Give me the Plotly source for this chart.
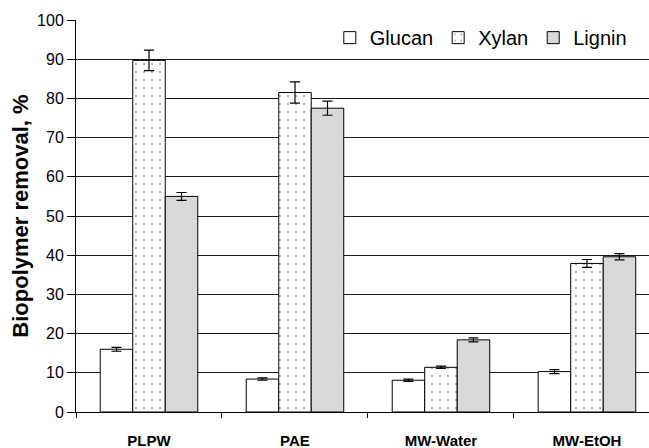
import plotly.graph_objects as go

categories = ["PLPW", "PAE", "MW-Water", "MW-EtOH"]
glucan = [16.0, 8.4, 8.1, 10.3]
glucan_err = [0.5, 0.3, 0.3, 0.5]
xylan = [89.7, 81.5, 11.4, 37.9]
xylan_err = [2.6, 2.7, 0.3, 1.0]
lignin = [55.0, 77.5, 18.4, 39.6]
lignin_err = [1.0, 1.8, 0.5, 0.8]
y_ticks = [0, 10, 20, 30, 40, 50, 60, 70, 80, 90, 100]

FONT = "Liberation Sans, Arial, sans-serif"
LINE = dict(color="#000000", width=1)
ERR = dict(type="data", visible=True, color="#000000", thickness=1.2, width=5)

fig = go.Figure()
fig.add_trace(go.Bar(
    name="Glucan", x=categories, y=glucan,
    error_y=dict(array=glucan_err, **ERR),
    marker=dict(color="#ffffff", line=LINE),
))
fig.add_trace(go.Bar(
    name="Xylan", x=categories, y=xylan,
    error_y=dict(array=xylan_err, **ERR),
    marker=dict(color="#ffffff", line=LINE,
                pattern=dict(shape=".", size=8, solidity=0.05,
                             fgcolor="#222222", bgcolor="#ffffff", fillmode="overlay")),
))
fig.add_trace(go.Bar(
    name="Lignin", x=categories, y=lignin,
    error_y=dict(array=lignin_err, **ERR),
    marker=dict(color="#d9d9d9", line=LINE),
))

fig.update_layout(
    width=649, height=448,
    margin=dict(l=76, r=0, t=20, b=36, pad=0),
    paper_bgcolor="#ffffff", plot_bgcolor="#ffffff",
    barmode="group", bargap=0.332, bargroupgap=0,
    font=dict(family=FONT, color="#000000"),
    showlegend=True,
    legend=dict(orientation="h", x=0.97, xanchor="right", y=0.955, yanchor="middle",
                bgcolor="rgba(0,0,0,0)", font=dict(size=20, family=FONT),
                itemwidth=30, traceorder="normal"),
)
fig.update_xaxes(
    range=[-0.5, 3.425], showgrid=False, showline=True, linecolor="#000000", linewidth=1,
    ticks="outside", tickson="boundaries", ticklen=5, tickcolor="#000000", tickwidth=1,
    tickfont=dict(size=15, family=FONT, weight="bold"), ticklabelstandoff=15,
)
fig.update_yaxes(
    range=[0, 100], tickvals=y_ticks, showgrid=True, gridcolor="#1a1a1a", gridwidth=1.2,
    showline=True, linecolor="#000000", linewidth=1, zeroline=False,
    ticks="outside", ticklen=8, tickcolor="#000000", tickwidth=1,
    tickfont=dict(size=16, family=FONT),
    title=dict(text="<b>Biopolymer removal, %</b>", font=dict(size=22, family=FONT), standoff=2),
)

fig.write_html("out.html")
